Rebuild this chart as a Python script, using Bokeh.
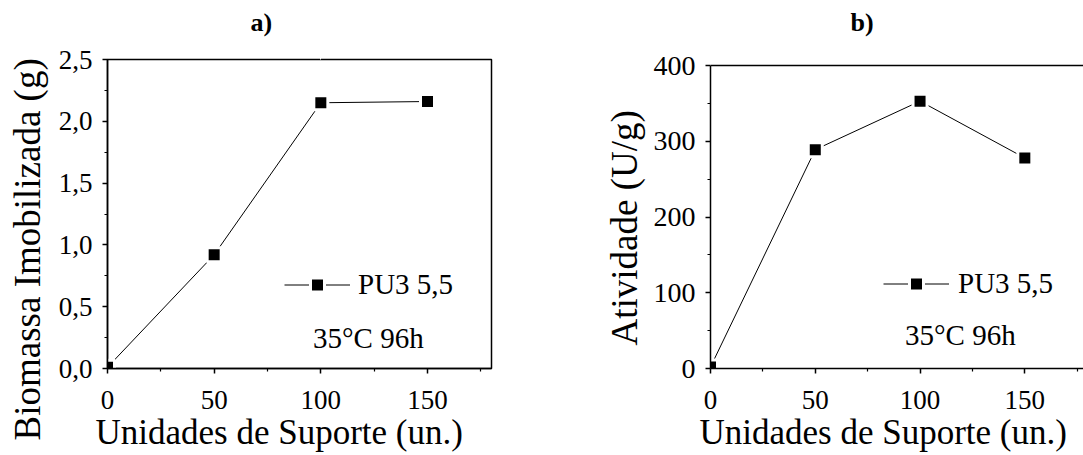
from bokeh.plotting import figure
from bokeh.models import (FixedTicker, Label, Legend, LegendItem, LinearAxis, Range1d,
                          Span, Title)
from bokeh.layouts import row
from bokeh.embed import file_html
from bokeh.resources import INLINE

# ---- data ----
units = [0, 50, 100, 150]
biomassa = [0.01, 0.92, 2.15, 2.16]
atividade = [2, 289, 353, 278]
series_label = "PU3 5,5"
condition_label = "35°C 96h"
x_title = "Unidades de Suporte (un.)"
ya_title = "Biomassa Imobilizada (g)"
yb_title = "Atividade (U/g)"
x_ticks = [0, 50, 100, 150]
x_minor = [25, 75, 125, 175]
ya_ticks = [0, 0.5, 1.0, 1.5, 2.0, 2.5]
ya_tick_labels = ["0,0", "0,5", "1,0", "1,5", "2,0", "2,5"]
ya_minor = [0.25, 0.75, 1.25, 1.75, 2.25]
yb_ticks = [0, 100, 200, 300, 400]
yb_tick_labels = ["0", "100", "200", "300", "400"]
yb_minor = [50, 150, 250, 350]

FONT = "Liberation Serif"
H = 455


def style_axis(ax, size, standoff):
    ax.axis_line_width = 1.5
    ax.axis_line_color = "black"
    ax.major_tick_line_width = 1.5
    ax.major_tick_line_color = "black"
    ax.minor_tick_line_width = 1.2
    ax.minor_tick_line_color = "black"
    ax.major_tick_out = 5
    ax.major_tick_in = 0
    ax.minor_tick_out = 3
    ax.minor_tick_in = 0
    ax.major_label_text_font = FONT
    ax.major_label_text_font_size = size
    ax.major_label_text_color = "black"
    ax.major_label_standoff = standoff


def make_panel(width, bl, br, xr, yr, vals, yt, ytl, ym, xsize, ysize):
    p = figure(width=width, height=H, x_range=Range1d(*xr), y_range=Range1d(*yr),
               output_backend="svg", toolbar_location=None,
               min_border_left=bl, min_border_right=br, min_border_top=59,
               min_border_bottom=87)
    p.xgrid.grid_line_color = None
    p.ygrid.grid_line_color = None
    p.background_fill_color = "white"
    p.border_fill_color = "white"
    xa = p.below[0]
    ya = p.left[0]
    xa.ticker = FixedTicker(ticks=x_ticks, minor_ticks=x_minor)
    ya.ticker = FixedTicker(ticks=yt, minor_ticks=ym)
    ya.major_label_overrides = {t: l for t, l in zip(yt, ytl)}
    style_axis(xa, xsize, 17)
    style_axis(ya, ysize, 10)

    r_line = p.line(units, vals, line_color="black", line_width=1)
    r_sc = p.scatter(units, vals, marker="square", size=14, fill_color="black",
                     line_color="white", line_width=3)
    return p, r_line, r_sc


def add_spacer_top(p, gap):
    # invisible spacer between the panel letter and the frame
    mid = x_ticks[2]
    top = LinearAxis(ticker=FixedTicker(ticks=[mid]), major_label_text_font_size="0px",
                     major_label_overrides={mid: ""},
                     major_label_standoff=0, major_tick_out=gap, major_tick_in=0)
    top.axis_line_color = None
    top.major_tick_line_color = "white"
    top.minor_tick_line_color = None
    p.add_layout(top, "above")


def add_legend(p, r_line, r_sc, loc, standoff):
    leg = Legend(items=[LegendItem(label=series_label, renderers=[r_line, r_sc])],
                 location=loc, padding=0, margin=0, spacing=0,
                 glyph_width=66, glyph_height=35, label_standoff=standoff,
                 label_text_font=FONT, label_text_font_size="29px",
                 label_text_color="black",
                 border_line_color=None, background_fill_alpha=0)
    p.add_layout(leg)


def add_title(p, side, text, size, offset, standoff, valign, bold=False):
    p.add_layout(Title(text=text, align="left", offset=offset, standoff=standoff,
                       vertical_align=valign, text_font=FONT, text_font_size=size,
                       text_color="black",
                       text_font_style="bold" if bold else "normal"), side)


def cond_label(p, x, y):
    p.add_layout(Label(x=x, y=y, text=condition_label, text_font=FONT,
                       text_font_size="29px", text_color="black",
                       text_baseline="alphabetic"))


# ---- panel a ----
pa, la, sa = make_panel(540, 105, 49, (0, 180), (0, 2.5), biomassa,
                        ya_ticks, ya_tick_labels, ya_minor, "27px", "27px")
pa.outline_line_color = "black"
pa.outline_line_width = 1.5
add_spacer_top(pa, 21)
add_title(pa, "above", "a)", "26px", 143, 4, "bottom", bold=True)
add_title(pa, "below", x_title, "35px", -12, 2, "top")
add_title(pa, "left", ya_title, "37px", -72, 12, "top")
add_legend(pa, la, sa, (177, 66), 8)
cond_label(pa, 96.3, 0.243)

# ---- panel b ----
# frame top sits a little above 400; the box line is drawn at 400 like the original
pb, lb, sb = make_panel(543, 170, 0, (0, 178), (0, 408), atividade,
                        yb_ticks, yb_tick_labels, yb_minor, "27px", "28px")
pb.outline_line_color = None
pb.left[0].bounds = (yb_ticks[0], yb_ticks[-1])
pb.add_layout(Span(location=yb_ticks[-1], dimension="width", line_color="black",
                   line_width=1.5))
add_spacer_top(pb, 21)
add_title(pb, "above", "b)", "26px", 140, 4, "bottom", bold=True)
add_title(pb, "below", x_title, "35px", -11, 2, "top")
add_title(pb, "left", yb_title, "37px", 23, 8, "top")
add_legend(pb, lb, sb, (173, 67), 9)
cond_label(pb, 92.8, 43.6)

layout = row(pa, pb, spacing=0)
open("out.html", "w").write(file_html(layout, INLINE))
